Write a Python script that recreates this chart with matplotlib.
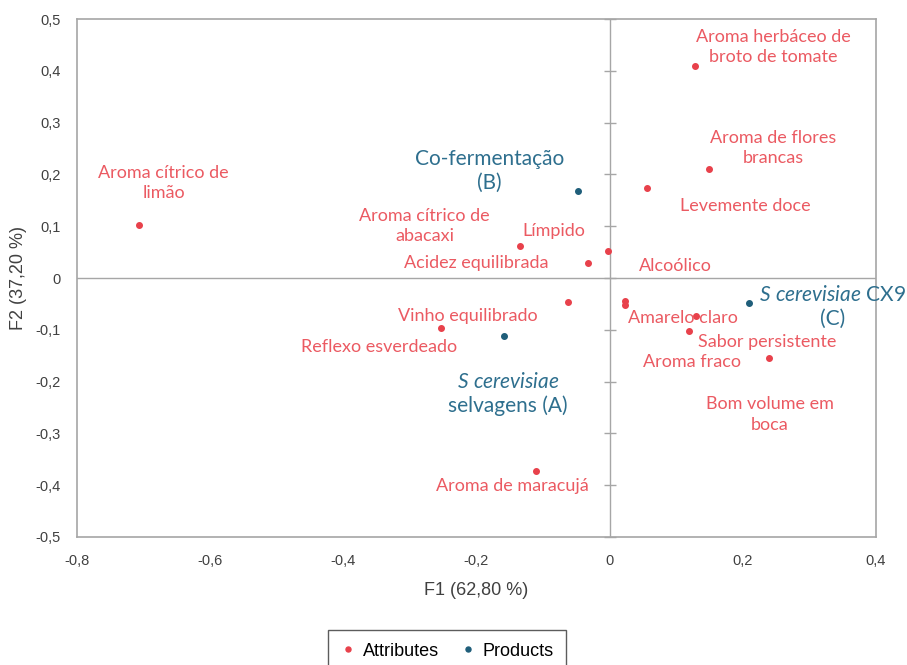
import matplotlib.pyplot as plt
from matplotlib.ticker import FuncFormatter
import numpy as np

plt.rcParams['font.family'] = ['Lato', 'DejaVu Sans']
plt.rcParams['mathtext.fontset'] = 'custom'
plt.rcParams['mathtext.it'] = 'Lato:italic'
plt.rcParams['mathtext.rm'] = 'Lato'

# attributes (F1, F2)
attr_names = ['Aroma cítrico de\nlimão', 'Aroma herbáceo de\nbroto de tomate', 'Aroma de flores\nbrancas',
              'Levemente doce', 'Aroma cítrico de\nabacaxi', 'Límpido', 'Acidez equilibrada', 'Alcoólico',
              'Vinho equilibrado', 'Amarelo claro', 'Reflexo esverdeado', 'Sabor persistente',
              'Aroma fraco', 'Bom volume em\nboca', 'Aroma de maracujá']
attr_f1 = [-0.707, 0.128, 0.149, 0.056, -0.062, -0.134, -0.032, -0.002,
           0.023, 0.023, -0.254, 0.129, 0.119, 0.240, -0.110]
attr_f2 = [0.102, 0.409, 0.210, 0.174, -0.046, 0.062, 0.029, 0.052,
           -0.044, -0.052, -0.097, -0.073, -0.102, -0.154, -0.373]

# products (F1, F2)
prod_names = ['Co-fermentação\n(B)', '$\\mathit{S\\ cerevisiae}$\nselvagens (A)', '$\\mathit{S\\ cerevisiae}$ CX9\n(C)']
prod_f1 = [-0.047, -0.158, 0.210]
prod_f2 = [0.168, -0.112, -0.048]

# label anchors (label centres, data units)
attr_lx = [-0.670, 0.246, 0.246, 0.204, -0.278, -0.084, -0.200, 0.099,
           -0.213, 0.110, -0.347, 0.237, 0.123, 0.240, -0.146]
attr_ly = [0.183, 0.446, 0.251, 0.139, 0.100, 0.091, 0.029, 0.023,
           -0.073, -0.077, -0.133, -0.124, -0.162, -0.264, -0.402]
prod_lx = [-0.180, -0.153, 0.335]
prod_ly = [0.207, -0.224, -0.056]

red = '#E8414B'
red_txt = '#EB5A62'
blue = '#1F5E7A'
blue_txt = '#2E6F8E'
grey = '#A6A6A6'

fig = plt.figure(figsize=(9.07, 6.65), dpi=100)
ax = fig.add_axes([0.0849, 0.1925, 0.8809, 0.7789])

ax.axhline(0, color=grey, lw=1, zorder=1)
ax.axvline(0, color=grey, lw=1, zorder=1)
yt = np.round(np.arange(-0.5, 0.51, 0.1), 1)
ax.plot(np.zeros_like(yt), yt, ls='none', marker='_', ms=9, mew=1, color=grey, zorder=1, clip_on=False)

ax.plot(attr_f1, attr_f2, ls='none', marker='o', ms=4, color=red, label='Attributes', zorder=3)
ax.plot(prod_f1, prod_f2, ls='none', marker='o', ms=4, color=blue, label='Products', zorder=3)

for name, x, y in zip(attr_names, attr_lx, attr_ly):
    ax.text(x, y, name, color=red_txt, fontsize=13, ha='center', va='center', linespacing=1.35)
for name, x, y in zip(prod_names, prod_lx, prod_ly):
    ax.text(x, y, name, color=blue_txt, fontsize=15, ha='center', va='center', linespacing=1.2)


def comma(v, p):
    if abs(v) < 1e-9:
        return '0'
    return ('%g' % round(v, 1)).replace('.', ',')


ax.set_xlim(-0.8, 0.4)
ax.set_ylim(-0.5, 0.5)
ax.set_xticks(np.round(np.arange(-0.8, 0.41, 0.2), 1))
ax.set_yticks(yt)
ax.xaxis.set_major_formatter(FuncFormatter(comma))
ax.yaxis.set_major_formatter(FuncFormatter(comma))
ax.tick_params(length=0, labelsize=10.5, colors='#404040', pad=12)
ax.tick_params(axis='x', pad=12)
for lab in ax.get_xticklabels() + ax.get_yticklabels():
    lab.set_family('Liberation Sans')
for s in ax.spines.values():
    s.set_color(grey)
    s.set_linewidth(1.2)

ax.set_xlabel('F1 (62,80 %)', fontsize=13, color='#404040', family='Liberation Sans', labelpad=10)
ax.set_ylabel('F2 (37,20 %)', fontsize=13, color='#404040', family='Liberation Sans', labelpad=6)

leg = fig.legend(loc='center', bbox_to_anchor=(0.493, 0.021), ncols=2, frameon=True, fancybox=False,
                 handlelength=0.8, handletextpad=0.4, columnspacing=1.2, markerscale=0.9, borderpad=0.7,
                 prop={'family': 'Liberation Sans', 'size': 13})
leg.get_frame().set_edgecolor('#333333')
leg.get_frame().set_linewidth(1)

plt.savefig('out.png', dpi=100)
